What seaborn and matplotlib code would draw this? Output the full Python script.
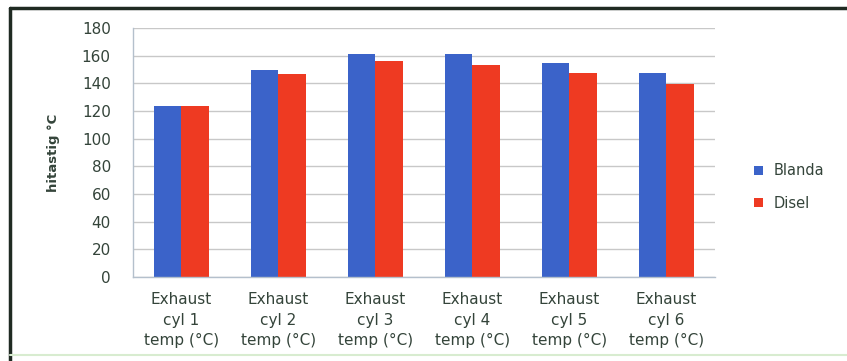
import matplotlib
matplotlib.use("Agg")
import matplotlib.pyplot as plt
import matplotlib.lines as mlines
import seaborn as sns
import pandas as pd

categories = [
    "Exhaust\ncyl 1\ntemp (°C)",
    "Exhaust\ncyl 2\ntemp (°C)",
    "Exhaust\ncyl 3\ntemp (°C)",
    "Exhaust\ncyl 4\ntemp (°C)",
    "Exhaust\ncyl 5\ntemp (°C)",
    "Exhaust\ncyl 6\ntemp (°C)",
]
blanda = [123.5, 149.5, 161.5, 161, 154.5, 147.5]
disel = [123.5, 147, 156, 153, 147.5, 139.5]
series_names = ["Blanda", "Disel"]
y_ticks = [0, 20, 40, 60, 80, 100, 120, 140, 160, 180]

df = pd.DataFrame({
    "cat": categories * 2,
    "val": blanda + disel,
    "series": [series_names[0]] * len(categories) + [series_names[1]] * len(categories),
})

sns.set_theme(style="white")
plt.rcParams["font.family"] = ["DejaVu Sans"]

text_color = "#34443a"
palette = {"Blanda": "#3b63c9", "Disel": "#ee3a22"}

fig = plt.figure(figsize=(8.47, 3.61), dpi=100)
ax = fig.add_axes([0.157, 0.233, 0.687, 0.689])

sns.barplot(data=df, x="cat", y="val", hue="series", palette=palette,
            width=0.56, saturation=1, linewidth=0, ax=ax, legend=True)

ax.set_ylim(0, 180)
ax.set_yticks(y_ticks)
ax.set_xlim(-0.5, len(categories) - 0.5)
ax.yaxis.grid(True, color="#c8c8c8", linewidth=1)
ax.set_axisbelow(True)
ax.set_xlabel("")
ax.set_ylabel("hitastig °C", fontsize=9.5, fontweight="bold", color=text_color)
ax.yaxis.set_label_coords(-0.125, 0.5)

for side in ["top", "right"]:
    ax.spines[side].set_visible(False)
for side in ["left", "bottom"]:
    ax.spines[side].set_color("#b4c0cc")
    ax.spines[side].set_linewidth(1)

ax.tick_params(axis="y", length=4, color="#c8c8c8", labelsize=11, labelcolor=text_color, pad=12)
ax.tick_params(axis="x", which="major", length=0, labelsize=11, labelcolor=text_color, pad=11)
ax.set_xticks([i + 0.5 for i in range(-1, len(categories))], minor=True)
ax.tick_params(axis="x", which="minor", length=5, color="#b4c0cc", direction="out")
for lab in ax.get_xticklabels():
    lab.set_linespacing(1.45)

handles, labels = ax.get_legend_handles_labels()
ax.legend(handles, labels, loc="center left", bbox_to_anchor=(1.045, 0.361),
          frameon=False, fontsize=10.5, labelcolor=text_color,
          handlelength=0.6, handleheight=0.6, handletextpad=0.7, labelspacing=1.2)

# frame lines along the top and left of the figure
fig.add_artist(mlines.Line2D([0.012, 1.0], [0.978, 0.978], color="#1f2a22", linewidth=2.5, transform=fig.transFigure))
fig.add_artist(mlines.Line2D([0.012, 0.012], [0.0, 0.978], color="#1f2a22", linewidth=2.5, transform=fig.transFigure))
fig.add_artist(mlines.Line2D([0.012, 1.0], [0.017, 0.017], color="#d8ecd0", linewidth=1.5, transform=fig.transFigure))

fig.savefig("out.png", dpi=100)
